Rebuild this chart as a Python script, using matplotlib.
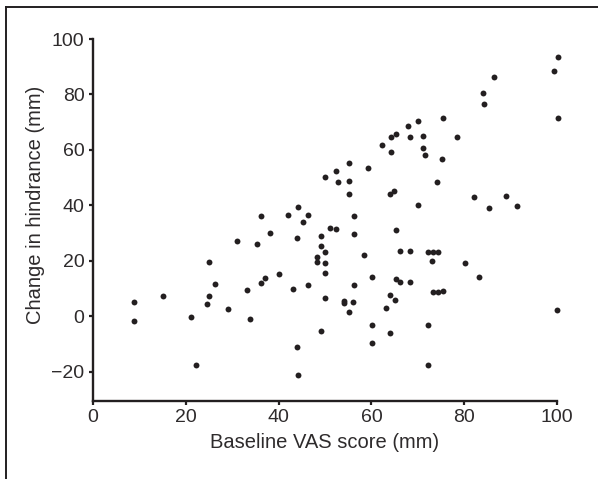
import numpy as np
import matplotlib
matplotlib.use("Agg")
import matplotlib.pyplot as plt
from matplotlib.lines import Line2D

# values (baseline VAS vs change in hindrance)
baselineVas = [8.9, 8.8, 15.1, 21.2, 22.2, 24.5, 25.0, 25.1, 26.2, 29.2,
               31.0, 33.1, 33.9, 35.3, 36.3, 36.2, 37.1, 38.2, 40.1, 42.1,
               43.2, 44.1, 44.0, 44.0, 44.1, 45.2, 46.3, 46.3, 48.2, 48.2,
               49.1, 49.1, 49.9, 50.1, 50.0, 50.1, 50.1, 49.1, 51.0, 52.3,
               52.3, 52.9, 55.2, 55.2, 55.2, 54.2, 54.2, 55.2, 56.2, 56.2,
               56.2, 56.0, 58.3, 59.3, 60.1, 60.2, 60.2, 62.3, 63.1, 64.2,
               64.2, 64.0, 64.9, 64.1, 64.0, 65.4, 65.2, 65.2, 66.1, 66.2,
               65.0, 67.9, 68.4, 68.3, 68.3, 70.0, 70.0, 71.1, 71.1, 71.6,
               72.1, 73.2, 74.3, 73.0, 72.1, 72.1, 73.2, 74.3, 75.4, 75.4,
               75.2, 74.1, 78.5, 80.1, 82.2, 83.2, 84.0, 84.2, 85.4, 86.4,
               89.1, 91.3, 99.3, 100.2, 100.2, 100.0]
changeHindrance = [5.2, -1.8, 7.2, -0.4, -17.5, 4.3, 7.2, 19.5, 11.7, 2.5,
                   27.1, 9.5, -1.1, 26.1, 36.1, 12.0, 13.9, 30.1, 15.3, 36.5,
                   9.8, 39.3, 28.1, -11.1, -21.1, 34.1, 36.5, 11.3, 21.4, 19.5,
                   29.0, 25.5, 23.0, 50.2, 19.2, 15.5, 6.6, -5.2, 31.7, 52.5,
                   31.3, 48.3, 55.3, 48.9, 44.1, 5.4, 4.7, 1.4, 36.1, 29.6,
                   11.1, 5.3, 22.0, 53.5, 14.2, -3.0, -9.8, 61.6, 3.1, 64.8,
                   59.3, 44.1, 45.2, 7.6, -5.9, 65.7, 31.0, 13.4, 23.5, 12.4,
                   6.0, 68.6, 64.8, 23.5, 12.4, 70.5, 40.0, 65.1, 60.6, 58.3,
                   23.1, 23.1, 23.1, 20.0, -3.3, -17.5, 8.6, 8.8, 9.2, 71.4,
                   56.7, 48.3, 64.8, 19.2, 42.9, 14.3, 80.5, 76.6, 39.0, 86.3,
                   43.3, 39.6, 88.6, 93.4, 71.4, 2.4]
xTicks = [0, 20, 40, 60, 80, 100]
yTicks = [-20, 0, 20, 40, 60, 80, 100]
xLabel = "Baseline VAS score (mm)"
yLabel = "Change in hindrance (mm)"

inkColor = "#231f20"
textColor = "#2e2b2c"
plt.rcParams['font.family'] = ['Liberation Sans', 'DejaVu Sans']

W, H = 598, 479
fig = plt.figure(figsize=(W / 100, H / 100), dpi=100)
fig.patch.set_facecolor("white")
# axes box in pixels: x 0..100 -> 93..557, y top (100) at 39, x-axis line at 400
ax = fig.add_axes([93 / W, 1 - 400.5 / H, 464 / W, 361.5 / H])
ax.scatter(baselineVas, changeHindrance, s=18, color=inkColor, linewidths=0,
           zorder=3, clip_on=False)

ax.set_xlim(0, 100)
ax.set_ylim(-30.4, 100)
ax.set_xticks(xTicks)
ax.set_yticks(yTicks)
ax.set_yticklabels([("\u2212%d" % -v) if v < 0 else str(v) for v in yTicks])

for side in ["top", "right"]:
    ax.spines[side].set_visible(False)
for side in ["left", "bottom"]:
    ax.spines[side].set_linewidth(1.7)
    ax.spines[side].set_color(inkColor)
ax.tick_params(direction="out", length=3.2, width=1.6, color=inkColor,
               labelsize=14, labelcolor=textColor, pad=3)

ax.set_xlabel(xLabel, fontsize=14.5, color=textColor, labelpad=5)
ax.set_ylabel(yLabel, fontsize=14.5, color=textColor)
ax.yaxis.set_label_coords(-0.104, 0.54)

# partial frame around the figure (top and left edges visible)
fig.add_artist(Line2D([6 / W, 1], [1 - 7 / H, 1 - 7 / H], color=inkColor,
                      linewidth=1.4, transform=fig.transFigure))
fig.add_artist(Line2D([6 / W, 6 / W], [0, 1 - 7 / H], color=inkColor,
                      linewidth=1.4, transform=fig.transFigure))

fig.savefig("out.png", dpi=100)
